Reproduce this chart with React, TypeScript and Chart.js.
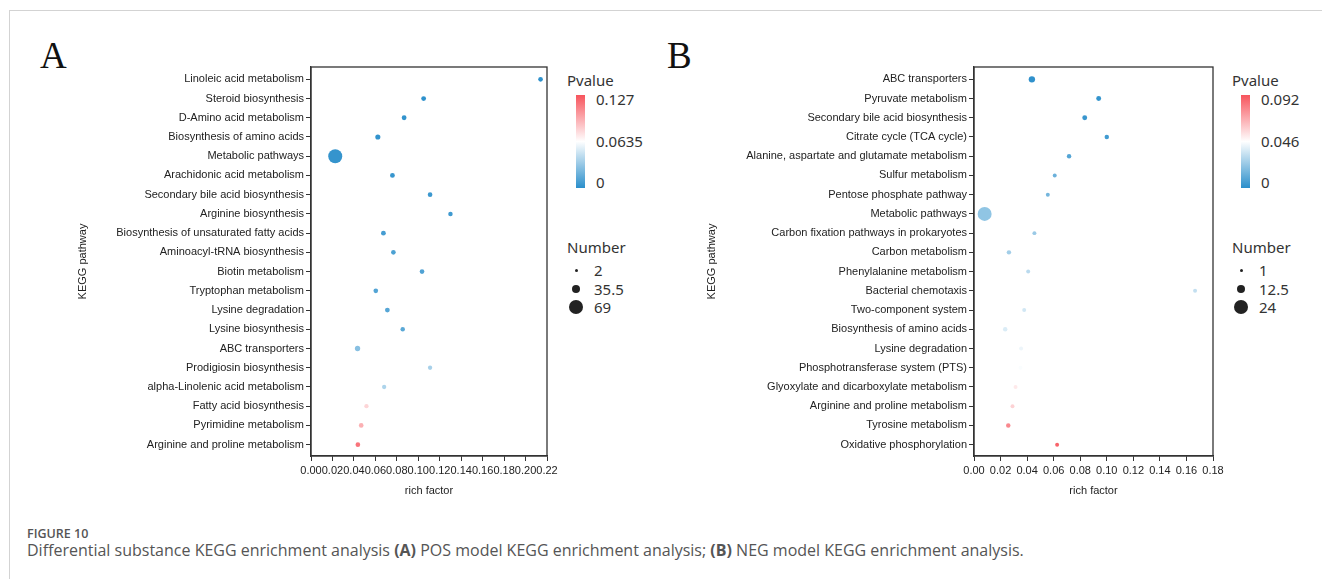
import React, { useEffect, useRef } from "react";
import { Chart, registerables } from "chart.js";
Chart.register(...registerables);

// ---------- Panel A data ----------
const pathwaysA = [
  "Linoleic acid metabolism",
  "Steroid biosynthesis",
  "D-Amino acid metabolism",
  "Biosynthesis of amino acids",
  "Metabolic pathways",
  "Arachidonic acid metabolism",
  "Secondary bile acid biosynthesis",
  "Arginine biosynthesis",
  "Biosynthesis of unsaturated fatty acids",
  "Aminoacyl-tRNA biosynthesis",
  "Biotin metabolism",
  "Tryptophan metabolism",
  "Lysine degradation",
  "Lysine biosynthesis",
  "ABC transporters",
  "Prodigiosin biosynthesis",
  "alpha-Linolenic acid metabolism",
  "Fatty acid biosynthesis",
  "Pyrimidine metabolism",
  "Arginine and proline metabolism",
];
const richA = [0.214, 0.105, 0.0868, 0.0623, 0.0226, 0.0759, 0.111, 0.130, 0.0675, 0.0768, 0.1035, 0.0604, 0.0712, 0.0855, 0.0434, 0.111, 0.0682, 0.0517, 0.0468, 0.0437];
const pvalA = [0.001, 0.001, 0.002, 0.002, 0.003, 0.004, 0.005, 0.006, 0.008, 0.010, 0.011, 0.012, 0.013, 0.014, 0.028, 0.037, 0.039, 0.079, 0.093, 0.115];
const countA = [12, 13, 13, 15, 69, 13, 12, 11, 13, 12, 12, 12, 13, 11, 16, 10, 10, 10, 12, 12];
const xTicksA = [0, 0.02, 0.04, 0.06, 0.08, 0.1, 0.12, 0.14, 0.16, 0.18, 0.2, 0.22];
const pLegendA = ["0.127", "0.0635", "0"];
const nLegendA = [2, 35.5, 69];

// ---------- Panel B data ----------
const pathwaysB = [
  "ABC transporters",
  "Pyruvate metabolism",
  "Secondary bile acid biosynthesis",
  "Citrate cycle (TCA cycle)",
  "Alanine, aspartate and glutamate metabolism",
  "Sulfur metabolism",
  "Pentose phosphate pathway",
  "Metabolic pathways",
  "Carbon fixation pathways in prokaryotes",
  "Carbon metabolism",
  "Phenylalanine metabolism",
  "Bacterial chemotaxis",
  "Two-component system",
  "Biosynthesis of amino acids",
  "Lysine degradation",
  "Phosphotransferase system (PTS)",
  "Glyoxylate and dicarboxylate metabolism",
  "Arginine and proline metabolism",
  "Tyrosine metabolism",
  "Oxidative phosphorylation",
];
const richB = [0.0436, 0.0939, 0.0834, 0.100, 0.0716, 0.0608, 0.0556, 0.008, 0.0455, 0.0263, 0.0408, 0.1665, 0.0378, 0.0235, 0.0355, 0.035, 0.0313, 0.029, 0.0258, 0.0626];
const pvalB = [0.001, 0.002, 0.003, 0.005, 0.009, 0.014, 0.016, 0.022, 0.024, 0.026, 0.031, 0.033, 0.036, 0.038, 0.042, 0.045, 0.052, 0.058, 0.078, 0.088];
const countB = [8, 5, 5, 4, 4, 3, 3, 24, 3, 4, 3, 3, 3, 4, 3, 3, 3, 3, 4, 3];
const xTicksB = [0, 0.02, 0.04, 0.06, 0.08, 0.1, 0.12, 0.14, 0.16, 0.18];
const pLegendB = ["0.092", "0.046", "0"];
const nLegendB = [1, 12.5, 24];

const LOW = [43, 143, 203];
const MID = [255, 255, 255];
const HIGH = [247, 84, 92];

function pColor(p: number, max: number) {
  const t = Math.max(0, Math.min(1, p / max));
  let c: number[];
  if (t < 0.5) {
    const u = t / 0.5;
    c = LOW.map((v, i) => v + (MID[i] - v) * u);
  } else {
    const u = (t - 0.5) / 0.5;
    c = MID.map((v, i) => v + (HIGH[i] - v) * u);
  }
  return `rgb(${c.map((v) => Math.round(v)).join(",")})`;
}

function radius(n: number, nmin: number, nmax: number) {
  return 1.5 + (5.5 * (n - nmin)) / (nmax - nmin);
}

const FONT = { family: "'Liberation Sans', Arial, sans-serif", size: 11 };
const TXT = "#222";

const framePlugin = {
  id: "frame",
  afterDraw(chart: any) {
    const { ctx, chartArea } = chart;
    ctx.save();
    ctx.strokeStyle = "#333";
    ctx.lineWidth = 1.3;
    ctx.strokeRect(chartArea.left, chartArea.top, chartArea.right - chartArea.left, chartArea.bottom - chartArea.top);
    ctx.restore();
  },
};

function makeConfig(
  labels: string[],
  rich: number[],
  pval: number[],
  count: number[],
  xTicks: number[],
  pmax: number,
  nmin: number,
  nmax: number,
  yAxisWidth: number
): any {
  const data = rich.map((x, i) => ({ x, y: i }));
  const radii = count.map((n) => radius(n, nmin, nmax));
  const axisGrid = {
    display: true,
    drawOnChartArea: false,
    drawTicks: true,
    tickLength: 5,
    color: "#333",
    lineWidth: 1,
  };
  return {
    type: "scatter",
    data: {
      datasets: [
        {
          data,
          pointRadius: radii,
          pointHoverRadius: radii,
          backgroundColor: pval.map((p) => pColor(p, pmax)),
          borderWidth: 0,
        },
      ],
    },
    options: {
      animation: false,
      responsive: false,
      maintainAspectRatio: false,
      events: [],
      plugins: { legend: { display: false }, tooltip: { enabled: false } },
      layout: { padding: { top: 6.5, right: 18, left: 0, bottom: 0 } },
      scales: {
        x: {
          type: "linear",
          min: 0,
          max: xTicks[xTicks.length - 1],
          afterBuildTicks: (s: any) => {
            s.ticks = xTicks.map((v) => ({ value: v }));
          },
          afterFit: (s: any) => {
            s.height = 50;
            s.paddingLeft = 0;
            s.paddingRight = 0;
          },
          ticks: {
            autoSkip: false,
            maxRotation: 0,
            minRotation: 0,
            padding: 3,
            color: TXT,
            font: FONT,
            callback: (v: any) => Number(v).toFixed(2),
          },
          grid: axisGrid,
          border: { display: true, color: "#333", width: 1.3 },
          title: { display: true, text: "rich factor", color: TXT, font: FONT, padding: { top: 4, bottom: 8 } },
        },
        y: {
          type: "linear",
          reverse: true,
          min: -0.64,
          max: 19.59,
          afterBuildTicks: (s: any) => {
            s.ticks = labels.map((_, i) => ({ value: i }));
          },
          afterFit: (s: any) => {
            s.width = yAxisWidth;
            s.paddingTop = 0;
            s.paddingBottom = 0;
          },
          ticks: {
            autoSkip: false,
            padding: 2,
            color: TXT,
            font: FONT,
            callback: (v: any) => labels[Math.round(Number(v))] ?? "",
          },
          grid: axisGrid,
          border: { display: true, color: "#333", width: 1.3 },
          title: { display: true, text: "KEGG pathway", color: TXT, font: FONT, padding: { top: 16, bottom: 0 } },
        },
      },
    },
    plugins: [framePlugin],
  };
}

function Panel(props: {
  left: number;
  top: number;
  width: number;
  height: number;
  config: any;
}) {
  const ref = useRef<HTMLCanvasElement | null>(null);
  useEffect(() => {
    if (!ref.current) return;
    const chart = new Chart(ref.current, props.config);
    return () => chart.destroy();
  }, []);
  return (
    <canvas
      ref={ref}
      width={props.width}
      height={props.height}
      style={{ position: "absolute", left: props.left, top: props.top, width: props.width, height: props.height }}
    />
  );
}

const legendFont = "'Noto Sans', 'Open Sans', sans-serif";

function Legend(props: {
  left: number;
  pLabels: string[];
  nLabels: number[];
}) {
  const { left, pLabels, nLabels } = props;
  const nmin = nLabels[0];
  const nmax = nLabels[nLabels.length - 1];
  const textStyle: React.CSSProperties = {
    position: "absolute",
    fontFamily: legendFont,
    fontSize: 15,
    color: "#333",
    lineHeight: "18px",
    whiteSpace: "nowrap",
  };
  const pYs = [99, 140.5, 182];
  const nYs = [270, 289, 307];
  return (
    <>
      <div style={{ ...textStyle, left, top: 80 - 9 }}>Pvalue</div>
      <div
        style={{
          position: "absolute",
          left: left + 9,
          top: 95,
          width: 8.5,
          height: 93,
          background: `linear-gradient(to bottom, rgb(${HIGH.join(",")}), rgb(255,255,255) 50%, rgb(${LOW.join(",")}))`,
        }}
      />
      {pLabels.map((t, i) => (
        <div key={t} style={{ ...textStyle, left: left + 29, top: pYs[i] - 9 }}>
          {t}
        </div>
      ))}
      <div style={{ ...textStyle, left, top: 247 - 9 }}>Number</div>
      {nLabels.map((n, i) => {
        const r = radius(n, nmin, nmax);
        return (
          <React.Fragment key={n}>
            <div
              style={{
                position: "absolute",
                left: left + 9 - r,
                top: nYs[i] - r,
                width: 2 * r,
                height: 2 * r,
                borderRadius: "50%",
                background: "#222",
              }}
            />
            <div style={{ ...textStyle, left: left + 27, top: nYs[i] - 9 }}>{String(n)}</div>
          </React.Fragment>
        );
      })}
    </>
  );
}

export default function App() {
  const configA = makeConfig(pathwaysA, richA, pvalA, countA, xTicksA, 0.127, 2, 69, 251);
  const configB = makeConfig(pathwaysB, richB, pvalB, countB, xTicksB, 0.092, 1, 24, 285);
  const letter: React.CSSProperties = {
    position: "absolute",
    fontFamily: "'Liberation Serif', 'Times New Roman', serif",
    fontSize: 37,
    color: "#111",
    lineHeight: "40px",
  };
  return (
    <div
      style={{
        position: "absolute",
        left: 0,
        top: 0,
        width: 1322,
        height: 579,
        overflow: "hidden",
        background: "#fff",
      }}
    >
      <div style={{ position: "absolute", left: 9, top: 10, width: 1313, height: 1, background: "#d3d3d3" }} />
      <div style={{ position: "absolute", left: 9, top: 10, width: 1, height: 569, background: "#d3d3d3" }} />
      <div style={{ ...letter, left: 40, top: 36 }}>A</div>
      <div style={{ ...letter, left: 667, top: 36 }}>B</div>
      <Panel left={60} top={60} width={505} height={446} config={configA} />
      <Panel left={689} top={60} width={542} height={446} config={configB} />
      <Legend left={567} pLabels={pLegendA} nLabels={nLegendA} />
      <Legend left={1232} pLabels={pLegendB} nLabels={nLegendB} />
      <div
        style={{
          position: "absolute",
          left: 27,
          top: 525,
          fontFamily: "'Open Sans', sans-serif",
          fontSize: 12.5,
          fontWeight: 600,
          color: "#555",
          whiteSpace: "nowrap",
        }}
      >
        FIGURE 10
      </div>
      <div
        style={{
          position: "absolute",
          left: 27,
          top: 539,
          fontFamily: "'Open Sans', sans-serif",
          fontSize: 16,
          fontWeight: 400,
          color: "#555",
          whiteSpace: "nowrap",
        }}
      >
        Differential substance KEGG enrichment analysis <b>(A)</b> POS model KEGG enrichment analysis; <b>(B)</b> NEG model KEGG
        enrichment analysis.
      </div>
    </div>
  );
}
